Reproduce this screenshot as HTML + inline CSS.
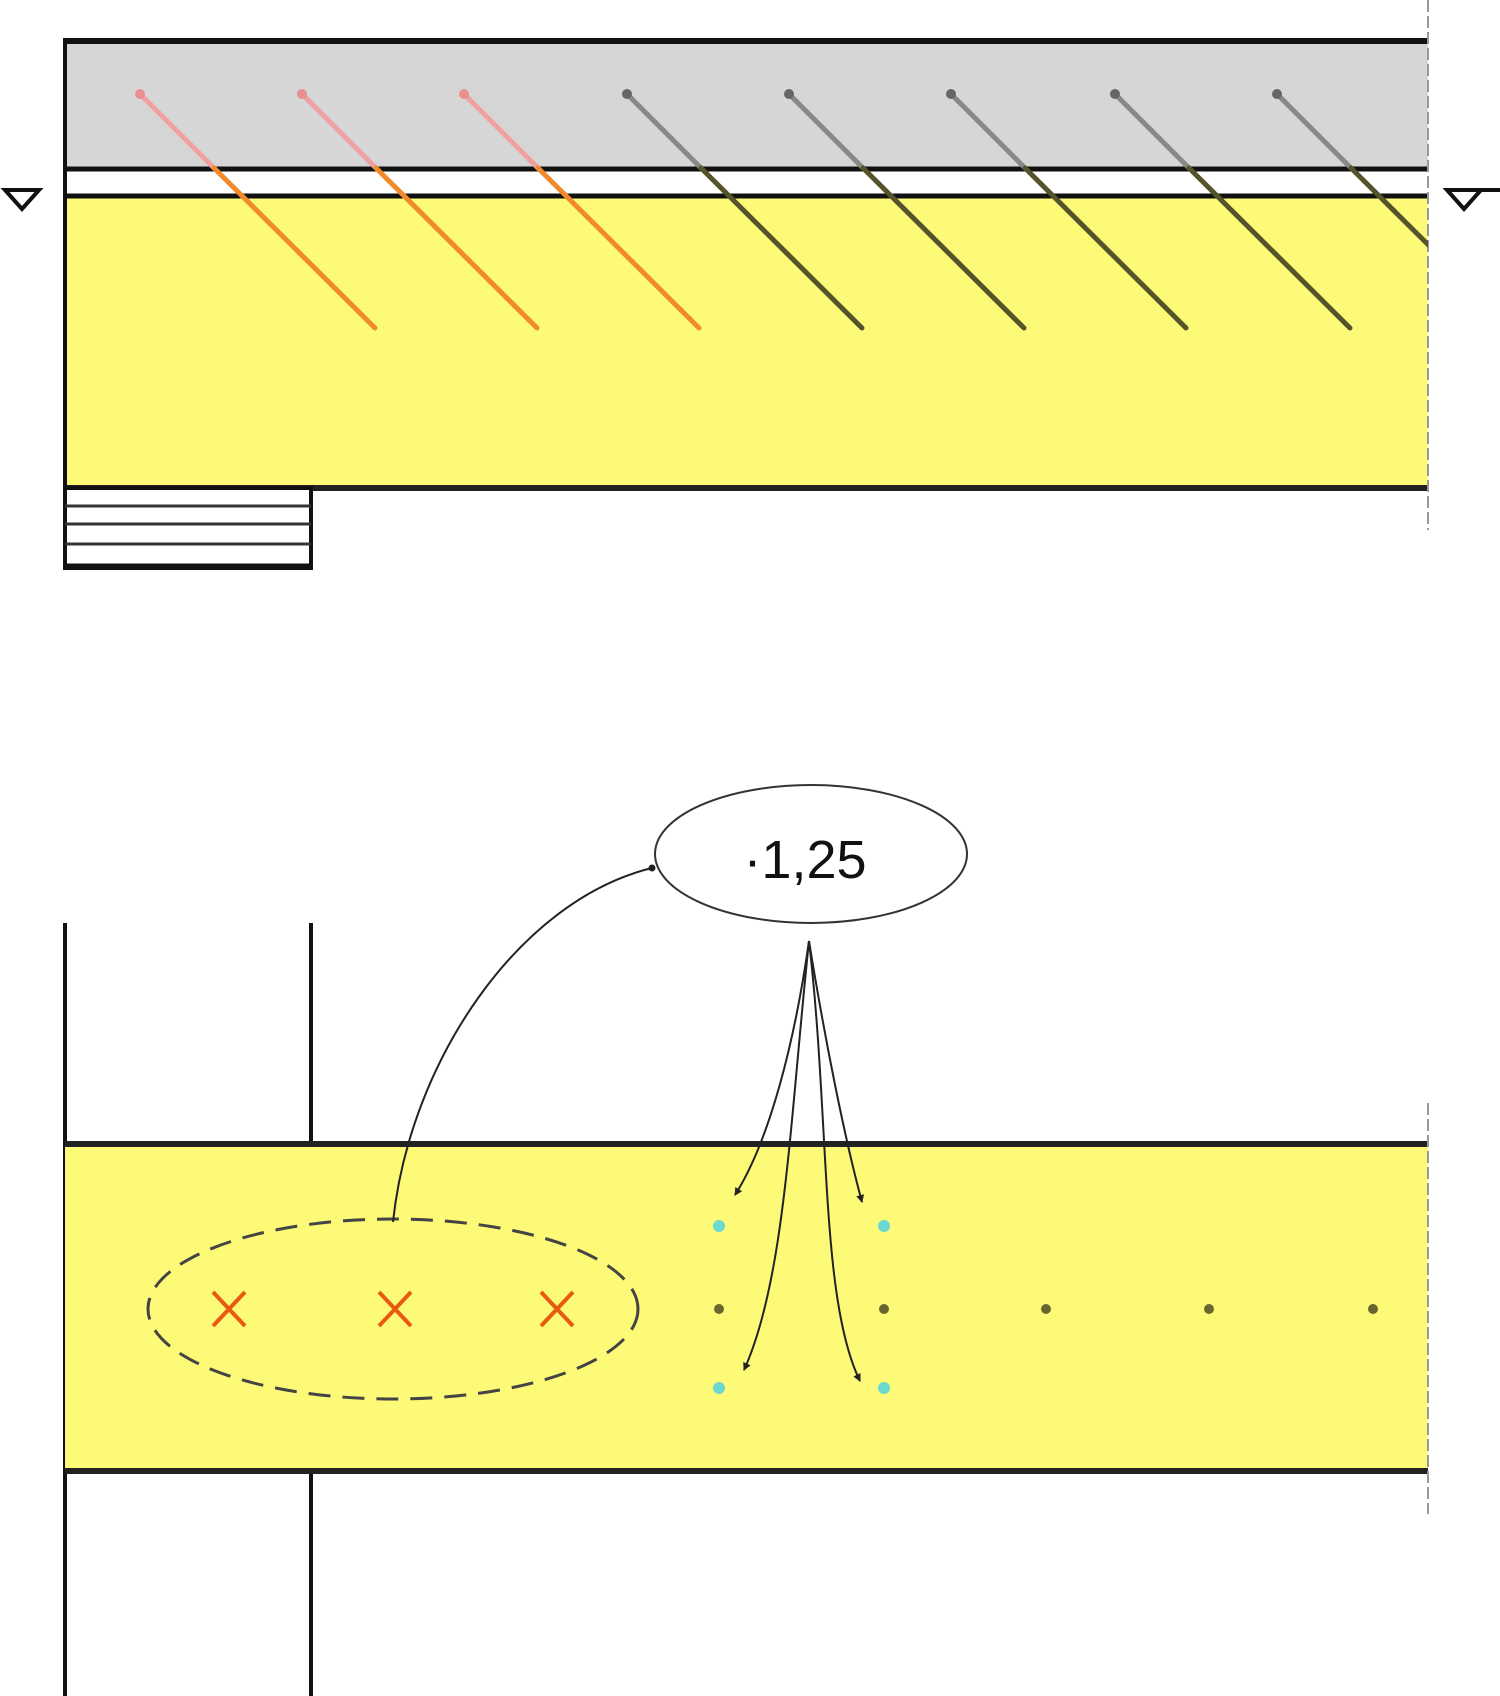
<!DOCTYPE html>
<html><head><meta charset="utf-8"><style>html,body{margin:0;padding:0;background:#fff}svg{display:block}</style></head>
<body>
<svg width="1500" height="1696" viewBox="0 0 1500 1696" xmlns="http://www.w3.org/2000/svg">
<defs>
<marker id="ah" markerWidth="8" markerHeight="8" refX="7" refY="4" orient="auto" markerUnits="userSpaceOnUse"><path d="M0,0 L8,4 L0,8 z" fill="#222"/></marker>
<clipPath id="cp"><rect x="0" y="0" width="1428" height="600"/></clipPath>
</defs>
<rect x="65" y="41" width="1363" height="128" fill="#d6d6d6"/>
<rect x="65" y="198" width="1363" height="290" fill="#fdfa78"/>
<line x1="65" y1="41" x2="1428" y2="41" stroke="#111" stroke-width="6"/>
<line x1="65" y1="169" x2="1428" y2="169" stroke="#111" stroke-width="5"/>
<line x1="65" y1="196" x2="1428" y2="196" stroke="#111" stroke-width="5"/>
<line x1="65" y1="488" x2="1428" y2="488" stroke="#222" stroke-width="6"/>
<line x1="65" y1="38" x2="65" y2="570" stroke="#111" stroke-width="4"/>
<line x1="1428" y1="0" x2="1428" y2="530" stroke="#999" stroke-width="2" stroke-dasharray="12,4"/>
<rect x="65" y="488" width="246" height="80" fill="#fff" stroke="#111" stroke-width="4"/>
<line x1="65" y1="506" x2="311" y2="506" stroke="#333" stroke-width="3"/>
<line x1="65" y1="524" x2="311" y2="524" stroke="#333" stroke-width="3"/>
<line x1="65" y1="544" x2="311" y2="544" stroke="#333" stroke-width="3"/>
<line x1="65" y1="566" x2="311" y2="566" stroke="#111" stroke-width="5"/>
<g stroke-linecap="round" clip-path="url(#cp)">
<g id="rn">
<line x1="141" y1="95" x2="214" y2="168" stroke="#f0a0a0" stroke-width="5"/>
<line x1="214" y1="168" x2="375" y2="328" stroke="#f08a2a" stroke-width="5"/>
<circle cx="140" cy="94" r="5" fill="#e89090"/>
</g>
<use href="#rn" x="162"/><use href="#rn" x="324"/>
<g id="bn">
<line x1="628" y1="95" x2="701" y2="168" stroke="#888" stroke-width="5"/>
<line x1="701" y1="168" x2="862" y2="328" stroke="#55532a" stroke-width="5"/>
<circle cx="627" cy="94" r="5" fill="#666"/>
</g>
<use href="#bn" x="162"/><use href="#bn" x="324"/><use href="#bn" x="488"/><use href="#bn" x="650"/>
</g>
<path d="M5,190 L39,190 L22,209 z" fill="#fff" stroke="#111" stroke-width="4"/>
<path d="M1447,190 L1481,190 L1464,209 z" fill="#fff" stroke="#111" stroke-width="4"/>
<line x1="1464" y1="190" x2="1500" y2="190" stroke="#111" stroke-width="4"/>
<line x1="65" y1="923" x2="65" y2="1696" stroke="#111" stroke-width="4"/>
<line x1="311" y1="923" x2="311" y2="1696" stroke="#111" stroke-width="4"/>
<rect x="65" y="1144" width="1363" height="327" fill="#fdfa78"/>
<line x1="65" y1="1144" x2="1428" y2="1144" stroke="#222" stroke-width="6"/>
<line x1="65" y1="1471" x2="1428" y2="1471" stroke="#222" stroke-width="6"/>
<line x1="1428" y1="1103" x2="1428" y2="1514" stroke="#999" stroke-width="2" stroke-dasharray="12,4"/>
<ellipse cx="811" cy="854" rx="156" ry="69" fill="#fff" stroke="#333" stroke-width="2"/>
<text x="805" y="878" font-family="Liberation Sans, sans-serif" font-size="54" text-anchor="middle" fill="#111">·1,25</text>
<ellipse cx="393" cy="1309" rx="245" ry="90" fill="none" stroke="#444" stroke-width="3" stroke-dasharray="22,12"/>
<g stroke="#e85a10" stroke-width="4">
<path d="M213,1292 L245,1326 M245,1292 L213,1326"/>
<path d="M379,1292 L411,1326 M411,1292 L379,1326"/>
<path d="M541,1292 L573,1326 M573,1292 L541,1326"/>
</g>
<g fill="#6a6630">
<circle cx="719" cy="1309" r="5"/><circle cx="884" cy="1309" r="5"/><circle cx="1046" cy="1309" r="5"/><circle cx="1209" cy="1309" r="5"/><circle cx="1373" cy="1309" r="5"/>
</g>
<g fill="#6cd8d0">
<circle cx="719" cy="1226" r="6"/><circle cx="884" cy="1226" r="6"/><circle cx="719" cy="1388" r="6"/><circle cx="884" cy="1388" r="6"/>
</g>
<g fill="none" stroke="#222" stroke-width="2">
<path d="M393,1222 C410,1060 520,900 652,868"/>
<path d="M809,941 C795,1040 770,1140 735,1195" marker-end="url(#ah)"/>
<path d="M809,941 C825,1040 845,1140 862,1202" marker-end="url(#ah)"/>
<path d="M809,941 C790,1120 785,1280 744,1370" marker-end="url(#ah)"/>
<path d="M809,941 C830,1120 820,1300 860,1381" marker-end="url(#ah)"/>
</g>
<circle cx="652" cy="868" r="3.5" fill="#222"/>
</svg>
</body></html>
